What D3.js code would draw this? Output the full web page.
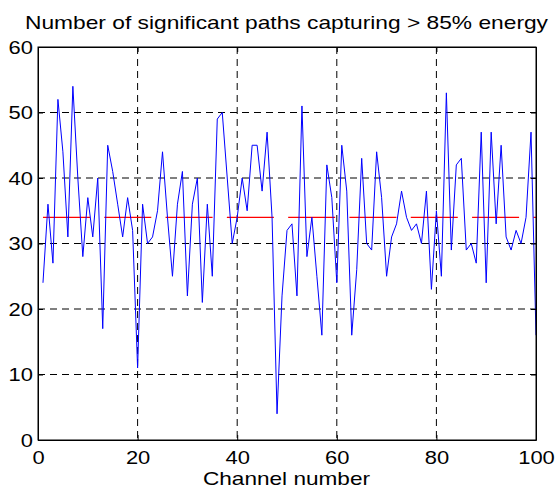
<!DOCTYPE html>
<html>
<head>
<meta charset="utf-8">
<script src="https://cdn.jsdelivr.net/npm/d3@7"></script>
<style>
  html, body { margin: 0; padding: 0; background: #fff; }
  text { font-family: "Liberation Sans", Arial, sans-serif; }
</style>
</head>
<body>
<svg id="chart" width="555" height="491"></svg>
<script>
// ---- data ----
const channels = d3.range(1, 101);
const paths = [
  24, 36, 27, 52, 44, 31, 54, 40, 28, 37,
  31, 40, 17, 45, 41, 36, 31, 37, 32, 11,
  36, 30, 31, 35, 44, 34, 25, 36, 41, 22,
  36, 40, 21, 36, 25, 49, 50, 40, 30, 34,
  40, 35, 45, 45, 38, 47, 34, 4, 22, 32,
  33, 22, 51, 28, 34, 25, 16, 42, 37, 24,
  45, 38, 16, 26, 43, 30, 29, 44, 37, 25,
  31, 33, 38, 34, 32, 33, 30, 38, 23, 35,
  25, 53, 29, 42, 43, 29, 30, 27, 47, 24,
  47, 33, 45, 31, 29, 32, 30, 34, 47, 16
];
const meanValue = [34];
const xTicks = [0, 20, 40, 60, 80, 100];
const yTicks = [0, 10, 20, 30, 40, 50, 60];
const titleText = "Number of significant paths capturing > 85% energy";
const xLabelText = "Channel number";

// ---- layout ----
const W = 555, H = 491;
const m = { left: 38, right: 19, top: 47, bottom: 51 };
const iw = W - m.left - m.right, ih = H - m.top - m.bottom;
const FONT = '"Liberation Sans", Arial, sans-serif';
const fs = "19px";

const svg = d3.select("#chart");
const g = svg.append("g").attr("transform", `translate(${m.left},${m.top})`);

const x = d3.scaleLinear().domain([0, 100]).range([0, iw]);
const y = d3.scaleLinear().domain([0, 60]).range([ih, 0]);

// grid
const grid = g.append("g").attr("class", "grid");
grid.selectAll("line.gx").data(xTicks.slice(1, -1)).join("line")
  .attr("x1", d => x(d)).attr("x2", d => x(d))
  .attr("y1", 0).attr("y2", ih)
  .attr("stroke", "#000").attr("stroke-width", 1).attr("stroke-dasharray", "7,5");
grid.selectAll("line.gy").data(yTicks.slice(1, -1)).join("line")
  .attr("x1", 0).attr("x2", iw)
  .attr("y1", d => y(d)).attr("y2", d => y(d))
  .attr("stroke", "#000").attr("stroke-width", 1).attr("stroke-dasharray", "7,5");

// mean line (red dashed)
g.append("line")
  .attr("x1", x(channels[0])).attr("x2", x(channels[channels.length - 1]))
  .attr("y1", y(meanValue[0])).attr("y2", y(meanValue[0]))
  .attr("stroke", "#ff0000").attr("stroke-width", 1.3)
  .attr("stroke-dasharray", "47,14.3");

// data line
const line = d3.line().x((d, i) => x(channels[i])).y(d => y(d));
g.append("path").datum(paths)
  .attr("d", line)
  .attr("fill", "none").attr("stroke", "#0000ff").attr("stroke-width", 1);

// axes
const xAxis = g.append("g").attr("transform", `translate(0,${ih})`)
  .call(d3.axisBottom(x).tickValues(xTicks).tickSizeInner(-5).tickSizeOuter(0).tickPadding(11));
const yAxis = g.append("g")
  .call(d3.axisLeft(y).tickValues(yTicks).tickSizeInner(-5).tickSizeOuter(0).tickPadding(5));
const xTop = g.append("g")
  .call(d3.axisTop(x).tickValues(xTicks).tickSizeInner(-5).tickSizeOuter(0).tickFormat(""));
const yRight = g.append("g").attr("transform", `translate(${iw},0)`)
  .call(d3.axisRight(y).tickValues(yTicks).tickSizeInner(-5).tickSizeOuter(0).tickFormat(""));
[xAxis, yAxis, xTop, yRight].forEach(a => {
  a.selectAll("path.domain").attr("stroke", "#000");
  a.selectAll("line").attr("stroke", "#000");
  a.selectAll("text").attr("fill", "#000").style("font-size", fs)
    .style("font-family", FONT)
    .attr("textLength", function() { return this.textContent.length * 12.2; })
    .attr("lengthAdjust", "spacingAndGlyphs");
});

// frame
g.append("rect").attr("x", 0).attr("y", 0).attr("width", iw).attr("height", ih)
  .attr("fill", "none").attr("stroke", "#000").attr("stroke-width", 1);

// title and label
svg.append("text").attr("x", 286.5).attr("y", 29)
  .attr("text-anchor", "middle").style("font-size", fs).attr("fill", "#000")
  .attr("textLength", 523).attr("lengthAdjust", "spacingAndGlyphs")
  .text(titleText);
svg.append("text").attr("x", 286.5).attr("y", 485)
  .attr("text-anchor", "middle").style("font-size", fs).attr("fill", "#000")
  .attr("textLength", 167).attr("lengthAdjust", "spacingAndGlyphs")
  .text(xLabelText);
</script>
</body>
</html>
